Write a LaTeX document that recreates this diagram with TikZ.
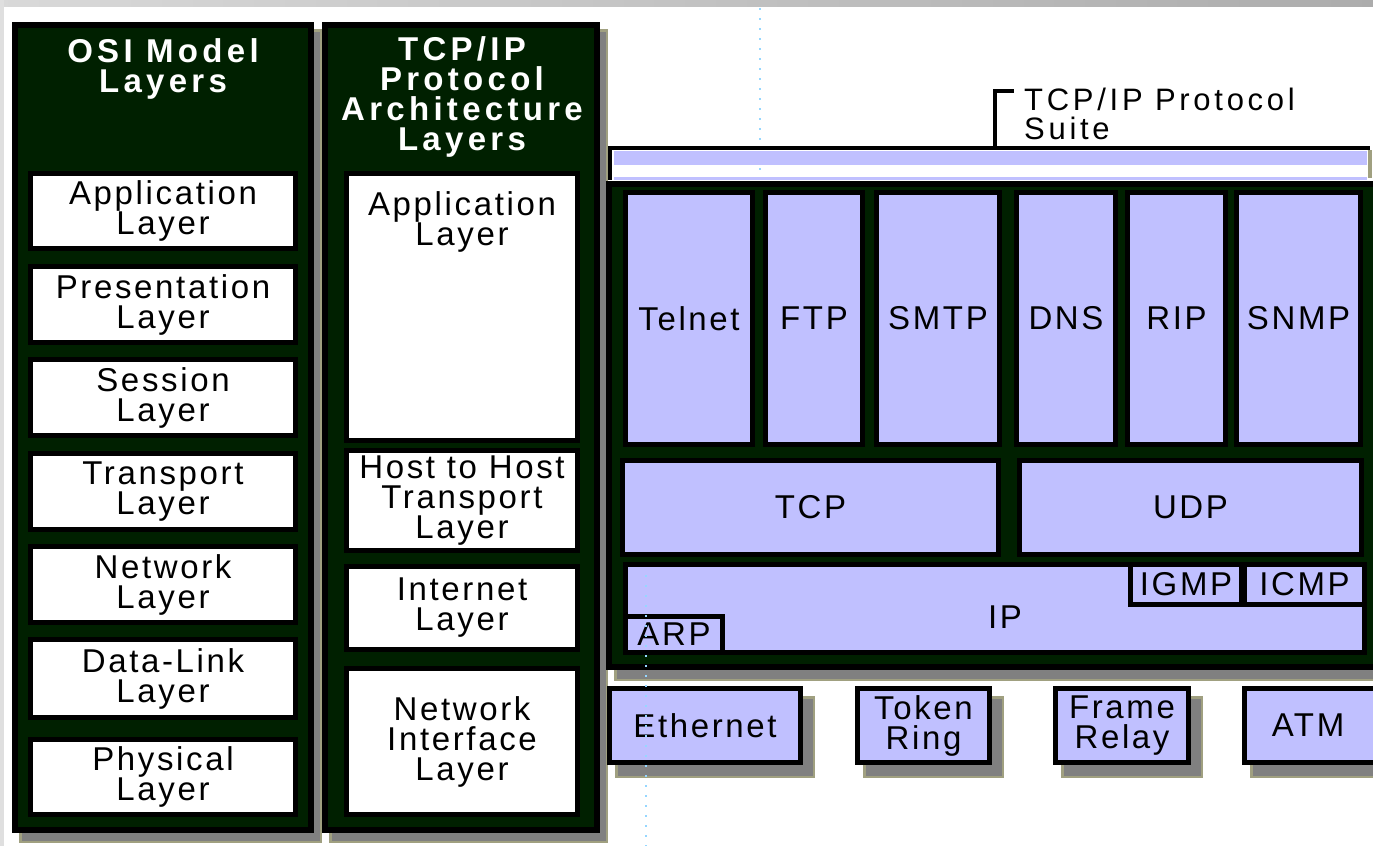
\documentclass[tikz,border=0pt]{standalone}
\usepackage{fontspec}
\setmainfont{Liberation Sans}[LetterSpace=8]
\definecolor{panelgreen}{RGB}{0,32,0}
\definecolor{lav}{RGB}{192,192,255}
\definecolor{khaki}{RGB}{160,160,128}
\definecolor{shadegray}{RGB}{128,128,128}
\definecolor{guide}{RGB}{150,215,255}
\newcommand{\boxfont}{\fontsize{33}{30}\selectfont}
\newcommand{\titlefont}{\fontsize{33}{30}\selectfont\bfseries\addfontfeature{LetterSpace=13}}
\newcommand{\suitefont}{\fontsize{31}{29}\selectfont\addfontfeature{LetterSpace=12}}
% box given by its outer corners (x1,y1) (x2,y2), border 5
\newcommand{\rbox}[7]{\node[#2, minimum width={#5-#3-5}, minimum height={#6-#4-5}] (#1) at ({(#3+#5)/2},{(#4+#6)/2}) {#7};}
% drop shadow behind a box
\newcommand{\shadowat}[4]{\fill[shadegray] (#1,#2) rectangle (#3,#4);
  \draw[khaki, line width=2.5] (#1+1.25,#2+1.25) rectangle (#3-1.25,#4-1.25);}
\tikzset{
  panel/.style={draw=black, line width=6, fill=panelgreen, inner sep=0, outer sep=0},
  whitebox/.style={draw=black, line width=5, fill=white, inner sep=0, outer sep=0, align=center, font=\boxfont, text=black},
  lavbox/.style={whitebox, fill=lav},
  title/.style={align=center, font=\titlefont, text=white, inner sep=0},
  label/.style={align=center, font=\boxfont, text=black, inner sep=0},
  bracket/.style={draw=black, line width=4},
  guideline/.style={draw=guide, line width=2, dash pattern=on 2pt off 8pt}
}
\begin{document}
\begin{tikzpicture}[x=1pt, y=-1pt]
\useasboundingbox (0,0) rectangle (1373,846);
\fill[white] (0,0) rectangle (1373,846);
% slide edge
\shade[left color=gray!30, right color=gray!65] (0,0) rectangle (1373,6);
\fill[gray!25] (0,0) rectangle (4,846);

% faint guide lines
\draw[guideline] (760,8) -- (760,180);

% ---- OSI model column ----
\shadowat{19}{29}{322}{843}
\node[panel, minimum width=296, minimum height=805] (osi) at (163,427.5) {};
\node[title, anchor=north] (osititle) at (163,38) {OSI Model\\Layers};
\rbox{osiapp}{whitebox}{28}{171}{298}{251}{Application\\Layer}
\rbox{osipres}{whitebox}{28}{264}{298}{345}{Presentation\\Layer}
\rbox{osisess}{whitebox}{28}{357}{298}{438}{Session\\Layer}
\rbox{ositrans}{whitebox}{28}{451}{298}{532}{Transport\\Layer}
\rbox{osinet}{whitebox}{28}{544}{298}{625}{Network\\Layer}
\rbox{osidl}{whitebox}{28}{637}{298}{720}{Data-Link\\Layer}
\rbox{osiphys}{whitebox}{28}{737}{298}{817}{Physical\\Layer}

% ---- TCP/IP architecture column ----
\shadowat{329}{29}{608}{843}
\node[panel, minimum width=272, minimum height=805] (arch) at (461,427.5) {};
\node[title, anchor=north] (archtitle) at (462,36) {TCP/IP\\Protocol\\Architecture\\Layers};
\rbox{archapp}{whitebox}{344}{171}{580}{443}{}
\node[label, anchor=north] (archapplabel) at (462,191) {Application\\Layer};
\rbox{archhost}{whitebox}{344}{448}{580}{553}{Host to Host\\Transport\\Layer}
\rbox{archinet}{whitebox}{344}{564}{580}{652}{Internet\\Layer}
\rbox{archni}{whitebox}{344}{666}{580}{817}{Network\\Interface\\Layer}

% ---- protocol suite bracket ----
\fill[lav] (614,151) rectangle (1367,165);
\fill[lav] (614,177) rectangle (1367,180);
\coordinate (brl) at (610,180);
\coordinate (brlt) at (610,148);
\coordinate (brrt) at (1370,148);
\coordinate (brr) at (1370,178);
\coordinate (brm) at (995,148);
\draw[bracket] (brl) -- (brlt) -- (brrt);
\draw[khaki, line width=4] (1370,150) -- (brr);
\coordinate (stemtop) at (995,91);
\coordinate (stemend) at (1014,91);
\draw[bracket] (brm) -- (stemtop) -- (stemend);
\node[align=left, anchor=north west, font=\suitefont, inner sep=0] (suite) at (1024,88) {TCP/IP Protocol\\Suite};

% ---- protocol suite panel ----
\shadowat{614}{187}{1390}{681}
\node[panel, minimum width=776, minimum height=483] (suitepanel) at (997,425.5) {};
\rbox{telnet}{lavbox}{623}{190}{755}{447}{Telnet}
\rbox{ftp}{lavbox}{763}{190}{865}{447}{FTP}
\rbox{smtp}{lavbox}{874}{190}{1002}{447}{SMTP}
\rbox{dns}{lavbox}{1014}{190}{1118}{447}{DNS}
\rbox{rip}{lavbox}{1125}{190}{1228}{447}{RIP}
\rbox{snmp}{lavbox}{1234}{190}{1363}{447}{SNMP}
\rbox{tcp}{lavbox}{620}{458}{1001}{557}{TCP}
\rbox{udp}{lavbox}{1017}{458}{1364}{557}{UDP}
\rbox{ip}{lavbox}{623}{562}{1367}{655}{}
\rbox{arp}{lavbox}{623}{614}{725}{655}{ARP}
\rbox{igmp}{lavbox}{1128}{562}{1244}{607}{IGMP}
\rbox{icmp}{lavbox}{1242}{562}{1367}{607}{ICMP}
\node[label] (iplabel) at (1005,617) {IP};

% ---- network access technologies ----
\shadowat{615}{696}{815}{778}
\shadowat{863}{696}{1004}{778}
\shadowat{1061}{696}{1203}{778}
\shadowat{1250}{696}{1400}{778}
\rbox{eth}{lavbox}{607}{686}{803}{765}{Ethernet}
\rbox{tok}{lavbox}{855}{686}{992}{765}{Token\\Ring}
\rbox{frm}{lavbox}{1053}{686}{1191}{765}{Frame\\Relay}
\rbox{atm}{lavbox}{1242}{686}{1386}{765}{\hspace*{-12pt}ATM}

\draw[guideline] (646,575) -- (646,846);
\end{tikzpicture}
\end{document}
